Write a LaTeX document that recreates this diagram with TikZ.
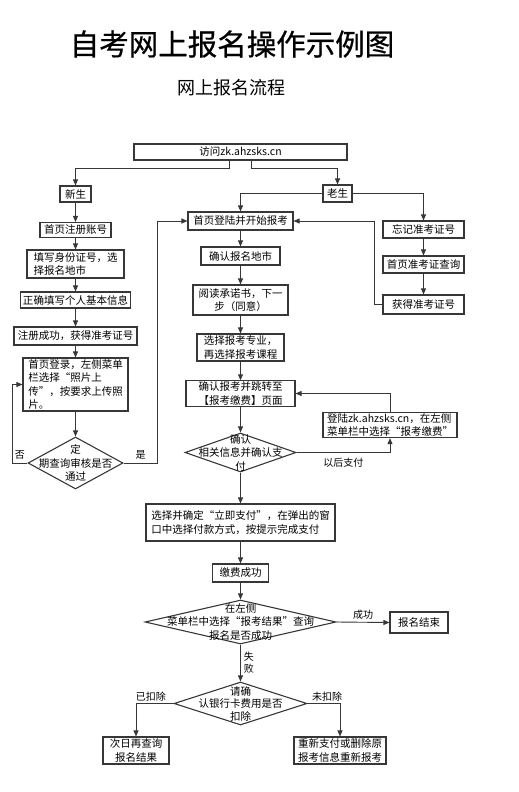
\documentclass[tikz,border=0pt]{standalone}
\usepackage{fontspec}
\setmainfont{Noto Sans CJK SC}
\newfontfamily\titlefont[FakeBold=0.6]{Noto Sans CJK SC}
\usetikzlibrary{arrows.meta,shapes.geometric}
\definecolor{FLine}{RGB}{55,55,55}
\tikzset{
  flowbox/.style={draw=FLine, line width=1.1pt, inner xsep=2pt, inner ysep=1pt,
    align=center, font=\fontsize{10.5}{13.5}\selectfont},
  flowleft/.style={flowbox, align=left},
  flowdia/.style={draw=FLine, line width=1.1pt, diamond, inner sep=0pt},
  flowtxt/.style={align=center, inner sep=0pt, font=\fontsize{10.5}{13.5}\selectfont},
  flowarr/.style={draw=FLine, line width=0.9pt, -{Triangle[length=6pt,width=5pt]}},
  flowlbl/.style={inner sep=1pt, font=\fontsize{10}{12}\selectfont}
}

\begin{document}
\begin{tikzpicture}[x=1pt, y=-1pt]
  \useasboundingbox (0,0) rectangle (519,792);

  % titles
  \node[font=\titlefont\fontsize{29.5}{34}\selectfont] (title) at (232,44) {自考网上报名操作示例图};
  \node[font=\fontsize{18}{20}\selectfont] (subtitle) at (231,88) {网上报名流程};

  \node[flowbox, minimum width=213pt, minimum height=16pt] (visit) at (240.5,152) {访问zk.ahzsks.cn};
  \node[flowbox, minimum width=31pt, minimum height=16pt] (newer) at (75.5,194) {新生};
  \node[flowbox, minimum width=29pt, minimum height=17pt] (older) at (337.5,193.5) {老生};

  % left column: new candidates
  \node[flowbox, minimum width=71pt, minimum height=15pt] (signup) at (75.5,230) {首页注册账号};
  \node[flowleft, minimum width=97pt, minimum height=28pt] (idcard) at (75.5,264) {填写身份证号，选\\择报名地市};
  \node[flowbox, minimum width=110pt, minimum height=16pt] (info) at (75.5,300) {正确填写个人基本信息};
  \node[flowbox, minimum width=123pt, minimum height=18pt] (regok) at (75.5,336) {注册成功，获得准考证号};
  \node[flowleft, minimum width=105pt, minimum height=53pt] (photo) at (75.5,384.5)
    {首页登录，左侧菜单\\栏选择“照片上\\传”，按要求上传照\\片。};
  \node[flowdia, minimum width=95pt, minimum height=52pt] (audit) at (75.5,463) {};
  \node[flowtxt] (auditt) at (audit) {定\\期查询审核是否\\通过};

  % right column: old candidates
  \node[flowbox, minimum width=81pt, minimum height=17pt] (forget) at (423.5,229.5) {忘记准考证号};
  \node[flowbox, minimum width=81pt, minimum height=17pt] (lookup) at (423.5,264.5) {首页准考证查询};
  \node[flowbox, minimum width=81pt, minimum height=19pt] (gotno) at (423.5,304.5) {获得准考证号};

  % middle column
  \node[flowbox, minimum width=105pt, minimum height=18pt] (login) at (240.5,221) {首页登陆并开始报考};
  \node[flowbox, minimum width=79pt, minimum height=18pt] (city) at (240.5,256) {确认报名地市};
  \node[flowbox, minimum width=95pt, minimum height=30pt] (promise) at (240.5,300) {阅读承诺书，下一\\步（同意）};
  \node[flowleft, minimum width=87pt, minimum height=27pt] (major) at (240.5,347.5) {选择报考专业，\\再选择报考课程};
  \node[flowleft, minimum width=109pt, minimum height=23pt] (confirm) at (240.5,393.5) {确认报考并跳转至\\【报考缴费】页面};
  \node[flowdia, minimum width=111pt, minimum height=39pt] (check) at (240.5,452.5) {};
  \node[flowtxt] (checkt) at (check) {确认\\相关信息并确认支\\付};
  \node[flowleft, minimum width=134pt, minimum height=24pt] (relogin) at (390,425)
    {登陆zk.ahzsks.cn，在左侧\\菜单栏中选择“报考缴费”};
  \node[flowleft, minimum width=189pt, minimum height=37pt] (pay) at (240.5,522.5)
    {选择并确定“立即支付”，在弹出的窗\\口中选择付款方式，按提示完成支付};
  \node[flowbox, minimum width=56pt, minimum height=18pt] (paid) at (240.5,573) {缴费成功};
  \node[flowdia, minimum width=191pt, minimum height=44pt] (result) at (240.5,622) {};
  \node[flowtxt] (resultt) at (result) {在左侧\\菜单栏中选择“报考结果”查询\\报名是否成功};
  \node[flowbox, minimum width=58pt, minimum height=21pt] (finish) at (419,622.5) {报名结束};
  \node[flowdia, minimum width=133pt, minimum height=43pt] (bank) at (240.5,703.5) {};
  \node[flowtxt, font=\fontsize{10.5}{12.5}\selectfont] (bankt) at (bank) {请确\\认银行卡费用是否\\扣除};
  \node[flowbox, minimum width=66pt, minimum height=27pt] (nextday) at (136,750.5) {次日再查询\\报名结果};
  \node[flowbox, minimum width=92pt, minimum height=27pt] (repay) at (340,750.5) {重新支付或删除原\\报考信息重新报考};

  % connectors
  \draw[flowarr] ([xshift=-11.5pt]visit.south) -- ++(0,8) -| (newer.north);
  \draw[flowarr] ([xshift=10.5pt]visit.south) -- ++(0,8) -| (older.north);
  \draw[flowarr] (older.west) -| (login.north);
  \draw[flowarr] (older.east) -| (forget.north);
  \draw[flowarr] (forget) -- (lookup);
  \draw[flowarr] (lookup) -- (gotno);
  \draw[flowarr] (gotno.west) -- ++(-8,0) |- (login.east);

  \draw[flowarr] (newer) -- (signup);
  \draw[flowarr] (signup) -- (idcard);
  \draw[flowarr] (idcard) -- (info);
  \draw[flowarr] (info) -- (regok);
  \draw[flowarr] (regok) -- (photo);
  \draw[flowarr] (photo) -- (audit);
  \draw[flowarr] (audit.west) -- node[flowlbl, above=2pt] (no) {否} ++(-15,0) |- (photo.west);
  \draw[flowarr] (audit.east) -- node[flowlbl, above=2pt] (yes) {是} ++(34,0) |- (login.west);

  \draw[flowarr] (login) -- (city);
  \draw[flowarr] (city) -- (promise);
  \draw[flowarr] (promise) -- (major);
  \draw[flowarr] (major) -- (confirm);
  \draw[flowarr] (confirm) -- (check);
  \draw[flowarr] (check.east) -| node[flowlbl, pos=0.25, below=4pt] (later) {以后支付} (relogin.south);
  \draw[flowarr] (relogin.north) |- (confirm.east);
  \draw[flowarr] (check) -- (pay);
  \draw[flowarr] (pay) -- (paid);
  \draw[flowarr] (paid) -- (result);
  \draw[flowarr] (result.east) -- node[flowlbl, above=1pt] (ok) {成功} (finish.west);
  \draw[flowarr] (result.south) -- node[flowlbl, right=2pt, align=center] (fail) {失\\败} (bank.north);
  \draw[flowarr] (bank.west) -| node[flowlbl, pos=0.3, above=1pt] (deducted) {已扣除} (nextday.north);
  \draw[flowarr] (bank.east) -| node[flowlbl, pos=0.3, above=1pt] (notded) {未扣除} (repay.north);
\end{tikzpicture}
\end{document}
